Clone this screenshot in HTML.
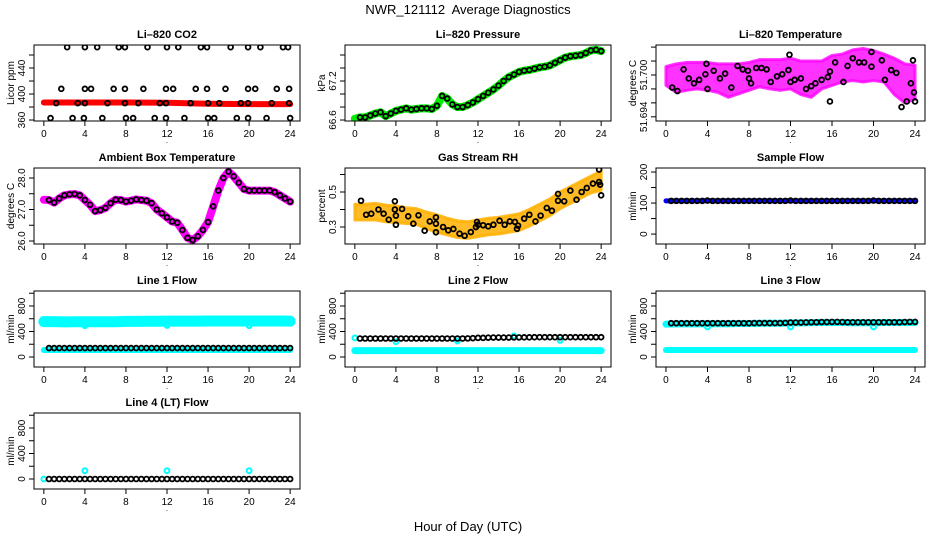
<!DOCTYPE html>
<html><head><meta charset="utf-8"><style>
body{margin:0;background:#fff;}
svg{display:block;font-family:"Liberation Sans",Arial,sans-serif;}
</style></head><body>
<svg id="chart" width="936" height="540" viewBox="0 0 936 540" xmlns="http://www.w3.org/2000/svg">
<rect width="936" height="540" fill="#fff"/>
<text x="468" y="14" text-anchor="middle" font-size="13" style="white-space:pre">NWR_121112  Average Diagnostics</text>
<text x="468" y="531" text-anchor="middle" font-size="13">Hour of Day (UTC)</text>
</svg>
<script>
// ---- data ----
const co2PtH=[2.27,4.0,5.2,7.3,7.9,10.1,12.0,13.1,15.3,15.9,18.2,19.9,21.1,23.3,23.8, 1.7,4.0,4.6,6.8,7.9,9.7,11.9,12.6,14.8,15.9,17.7,19.9,20.6,22.7,23.9, 1.2,3.3,4.0,6.2,7.9,9.2,11.3,11.9,14.3,16.0,17.1,19.2,19.9,22.2,23.9, 0.65,2.8,3.9,5.7,8.0,8.7,10.8,11.9,13.7,16.0,16.6,18.8,19.9,21.7,24];
const co2PtV=[472,472,472,472,472,472,472,472,472,472,472,472,472,472,472, 408,408,408,408,408,408,408,408,408,408,408,408,408,408,408, 386,386,386,386,386,386,386,386,386,386,386,386,386,386,386, 363,363,363,363,363,363,363,363,363,363,363,363,363,363,363];
const co2BandH=[0,4,8,12,16,20,24];
const co2BandV=[387,387,387,386.5,385,384.5,384.5];

const halfH=[0,0.5,1,1.5,2,2.5,3,3.5,4,4.5,5,5.5,6,6.5,7,7.5,8,8.5,9,9.5,10,10.5,11,11.5,12,12.5,13,13.5,14,14.5,15,15.5,16,16.5,17,17.5,18,18.5,19,19.5,20,20.5,21,21.5,22,22.5,23,23.5,24];
const presV=[66.62,66.64,66.64,66.67,66.7,66.72,66.66,66.7,66.74,66.76,66.78,66.76,66.77,66.78,66.78,66.77,66.82,66.97,66.93,66.84,66.8,66.8,66.83,66.87,66.92,66.97,67.02,67.07,67.13,67.2,67.26,67.3,67.34,67.36,67.37,67.39,67.41,67.42,67.44,67.48,67.52,67.56,67.58,67.59,67.6,67.63,67.67,67.68,67.66];

const hourH=[0,1,2,3,4,5,6,7,8,9,10,11,12,13,14,15,16,17,18,19,20,21,22,23,24];
const tempUp=[51.7012,51.7016,51.7018,51.7018,51.7018,51.7016,51.7016,51.7016,51.7018,51.7022,51.7022,51.7022,51.7024,51.7020,51.7020,51.7020,51.7028,51.7030,51.7036,51.7038,51.7035,51.7030,51.7024,51.7016,51.7014];
const tempLo=[51.6985,51.6975,51.6978,51.6980,51.6978,51.6975,51.6968,51.6973,51.6978,51.6983,51.6980,51.6978,51.6980,51.6972,51.6968,51.6980,51.6985,51.6990,51.6992,51.6990,51.6992,51.6990,51.6972,51.6960,51.6965];
const tempPtH=[0.6,1.1,1.7,2.2,2.7,3.2,3.8,3.9,4.0,4.6,5.2,5.7,6.3,6.9,7.4,7.9,8.0,8.2,8.7,9.2,9.7,10.1,10.7,11.2,11.8,11.9,12.0,12.4,13.0,13.5,14.0,14.4,15.0,15.6,15.8,15.8,16.3,17.1,17.5,18.0,18.6,19.1,19.8,19.8,20.8,21.1,21.7,22.2,22.7,23.2,23.6,23.8,23.9,24];
const tempPtV=[51.6982,51.6977,51.7008,51.6995,51.6988,51.6993,51.7001,51.7016,51.6980,51.7006,51.6995,51.7002,51.6982,51.7013,51.7008,51.7006,51.6995,51.6988,51.7010,51.7010,51.7008,51.6990,51.6998,51.7001,51.7007,51.7029,51.6990,51.6993,51.6995,51.6980,51.6984,51.6988,51.6993,51.6997,51.6962,51.7005,51.7018,51.6990,51.7013,51.7024,51.7018,51.7018,51.7033,51.7012,51.7021,51.6993,51.7007,51.7003,51.6954,51.6962,51.6988,51.7021,51.6975,51.6962];

const ambV=[27.31,27.3,27.22,27.35,27.45,27.48,27.49,27.45,27.3,27.15,26.95,26.98,27.05,27.2,27.31,27.3,27.25,27.28,27.32,27.3,27.28,27.2,27.0,26.88,26.75,26.62,26.58,26.35,26.1,26.03,26.15,26.35,26.6,27.1,27.6,28.0,28.2,28.05,27.85,27.65,27.6,27.6,27.6,27.6,27.6,27.55,27.45,27.35,27.25];

const rhUp=[0.43,0.43,0.435,0.425,0.42,0.41,0.405,0.385,0.37,0.35,0.335,0.33,0.34,0.35,0.355,0.365,0.375,0.4,0.43,0.46,0.5,0.53,0.56,0.59,0.62];
const rhLo=[0.34,0.34,0.34,0.33,0.325,0.32,0.315,0.29,0.27,0.255,0.24,0.235,0.245,0.255,0.26,0.27,0.28,0.305,0.335,0.365,0.405,0.435,0.465,0.495,0.51];
const rhPtH=[0.6,1.1,1.6,2.3,2.8,3.3,3.9,3.9,4.0,4.0,4.6,5.2,5.7,6.2,6.8,7.3,7.9,7.9,7.9,8.6,9.1,9.6,10.2,10.7,11.3,11.8,11.9,12.0,12.5,13.0,13.5,14.1,14.6,15.1,15.6,15.8,15.9,16.5,17.0,17.6,18.1,18.7,19.2,19.8,19.8,20.4,21.0,21.6,22.1,22.6,23.2,23.8,23.8,23.9,24.0];
const rhPtV=[0.45,0.37,0.376,0.40,0.376,0.342,0.40,0.447,0.365,0.313,0.403,0.361,0.319,0.367,0.279,0.332,0.355,0.319,0.27,0.30,0.281,0.289,0.262,0.25,0.271,0.30,0.329,0.313,0.31,0.304,0.313,0.336,0.313,0.332,0.329,0.29,0.308,0.348,0.37,0.332,0.365,0.409,0.393,0.45,0.489,0.447,0.508,0.456,0.50,0.523,0.548,0.628,0.557,0.542,0.481];

const sampleV=[107,107,107,107,107,107,107,107,108,107,107,107,107,107,107,107,107,107,107,107,107,107,107,107,108,107,107,107,107,107,107,107,107,107,107,107,107,107,107,107,108,107,107,107,107,107,107,107,107];

const l1Hi=[555,555,550,552,552,552,553,553,558,558,560,560,562,562,562,562,565,565,565,565,565,565,565,565,562];
const l1Lo=[110,110,110,110,110,110,110,110,110,110,110,110,110,110,110,110,110,110,110,110,110,110,110,110,110];
const l1Blk=[140,140,140,140,140,140,140,140,140,140,140,140,140,140,140,140,140,140,140,140,140,140,140,140,140,140,140,140,140,140,140,140,140,140,140,140,140,140,140,140,140,140,140,140,140,140,140,140,140];
const l1OutH=[4,12,20];
const l1OutV=[490,495,490];

const l2Lo=[100,100,100,100,100,100,100,100,100,100,100,100,100,100,100,100,100,100,100,100,100,100,100,100,100];
const l2Blk=[295,290,290,290,290,290,290,290,290,290,290,290,290,290,290,290,290,290,290,290,290,290,292,295,300,300,303,305,305,305,305,307,307,308,308,310,310,310,310,310,310,310,310,310,310,310,310,310,310];
const l2OutH=[0,4,10,15.5,20];
const l2OutV=[300,240,250,330,260];

const l3Lo=[110,110,110,110,110,110,110,110,110,110,110,110,110,110,110,110,110,110,110,110,110,110,110,110,110];
const l3Hi=[515,520,520,520,522,522,522,525,525,528,530,530,535,535,538,540,540,540,538,538,538,540,540,540,540];
const l3Blk=[530,530,530,530,530,530,530,530,530,530,530,530,530,530,530,530,530,532,532,532,532,532,532,535,540,540,540,542,545,545,548,548,550,550,548,545,545,545,545,545,545,545,545,545,545,545,548,550,550];
const l3OutH=[4,12,20];
const l3OutV=[470,470,470];

const l4Blk=[0,0,0,0,0,0,0,0,0,0,0,0,0,0,0,0,0,0,0,0,0,0,0,0,0,0,0,0,0,0,0,0,0,0,0,0,0,0,0,0,0,0,0,0,0,0,0,0,0];
const l4OutH=[0,4,12,20];
const l4OutV=[0,130,130,130];

const xTicks=[0,4,8,12,16,20,24];
const flowTicks=[0,200,400,600,800,1000];
const flowLabels=["0","400","800"];

// ---- drawing ----
const svg=document.getElementById('chart');
const NS='http://www.w3.org/2000/svg';
function mk(tag,attrs,parent){const e=document.createElementNS(NS,tag);for(const k in attrs)e.setAttribute(k,attrs[k]);(parent||svg).appendChild(e);return e;}
const cols=[[34,300],[345,611],[656,925]];
const rows=[[45,121],[168,244],[291,367],[413,489]];

function panel(name,title,col,row,ylim,yticks,ylabels,ytitle){
  const [x0,x1]=cols[col],[y0,y1]=rows[row];
  const g=mk('g',{});
  
  
  const sx=v=>x0+(v+0.96)/25.92*(x1-x0);
  const sy=v=>y1-(v-ylim[0])/(ylim[1]-ylim[0])*(y1-y0);
  const t=mk('text',{x:(x0+x1)/2,y:y0-7,'text-anchor':'middle','font-size':11,'font-weight':'bold'},g);
  t.textContent=title;
  
  
  const ax=mk('g',{stroke:'#000','stroke-width':1},g);
  
  
  xTicks.forEach(v=>{
    mk('line',{x1:sx(v),x2:sx(v),y1:y1,y2:y1+5},ax);
    const l=mk('text',{x:sx(v),y:y1+16,'text-anchor':'middle','font-size':10,stroke:'none',fill:'#000'},ax);
    l.textContent=v;
  });
  const dot=mk('text',{x:(x0+x1)/2,y:y1+22,'text-anchor':'middle','font-size':8},g);dot.textContent='.';
  const ay=mk('g',{stroke:'#000','stroke-width':1},g);
  
  
  yticks.forEach(v=>{
    if(sy(v)<y0-0.5||sy(v)>y1+0.5)return;
    mk('line',{x1:x0-5,x2:x0,y1:sy(v),y2:sy(v)},ay);
  });
  ylabels.forEach(s=>{
    const v=parseFloat(s);
    const l=mk('text',{x:0,y:0,'text-anchor':'middle','font-size':10,stroke:'none',fill:'#000',transform:`translate(${x0-9},${sy(v)}) rotate(-90)`},ay);
    l.textContent=s;
  });
  const yt=mk('text',{'text-anchor':'middle','font-size':10,transform:`translate(${x0-20},${(y0+y1)/2}) rotate(-90)`},g);
  yt.textContent=ytitle;
  
  
  const clipId='c'+name;
  const cp=mk('clipPath',{id:clipId},g);mk('rect',{x:x0,y:y0,width:x1-x0,height:y1-y0},cp);
  const plot=mk('g',{'clip-path':`url(#${clipId})`},g);
  mk('rect',{x:x0,y:y0,width:x1-x0,height:y1-y0,fill:'none',stroke:'#000','stroke-width':1},g);
  return {sx,sy,plot};
}
function band(p,xs,vs,color,w,name){
  const e=mk('polyline',{points:xs.map((x,i)=>p.sx(x)+','+p.sy(vs[i])).join(' '),fill:'none',stroke:color,'stroke-width':w,'stroke-linejoin':'round','stroke-linecap':'round'},p.plot);
  
  
}
function area(p,xs,up,lo,color,op,name){
  const pts=xs.map((x,i)=>p.sx(x)+','+p.sy(up[i])).concat(xs.slice().reverse().map((x,j)=>{const i=xs.length-1-j;return p.sx(x)+','+p.sy(lo[i]);}));
  const e=mk('polygon',{points:pts.join(' '),fill:color,'fill-opacity':op,stroke:color,'stroke-width':3,'stroke-opacity':op,'stroke-linejoin':'round'},p.plot);
  
  
}
function pts(p,xs,vs,color,name,sw){
  const g=mk('g',{fill:'none',stroke:color,'stroke-width':sw||1.8},p.plot);
  
  
  xs.forEach((x,i)=>{
    const c=mk('circle',{cx:p.sx(x),cy:p.sy(vs[i]),r:2.4},g);
    
    
  });
}

// CO2
let p=panel('co2','Li\u2013820 CO2',0,0,[358.5,475.4],[360,380,400,420,440,460],["360","400","440"],'Licor ppm');
band(p,co2BandH,co2BandV,'#ff0000',6,'co2-red-band');
pts(p,co2PtH,co2PtV,'#000','co2-means');
// Pressure
p=panel('pressure','Li\u2013820 Pressure',1,0,[66.585,67.754],[66.6,66.8,67.0,67.2,67.4,67.6],["66.6","67.2"],'kPa');
band(p,halfH,presV,'#00ee00',8,'pressure-green-band');
pts(p,halfH.slice(1),presV.slice(1),'#000','pressure-means');
// Temperature
p=panel('li820-temp','Li\u2013820 Temperature',2,0,[51.6934,51.7043],[51.694,51.696,51.698,51.700,51.702,51.704],["51.694","51.700"],'degrees C');
area(p,hourH,tempUp,tempLo,'#ff00ff',0.8,'temp-magenta-cloud');
pts(p,tempPtH,tempPtV,'#000','temp-means',1.8);
// Ambient
p=panel('ambient','Ambient Box Temperature',0,1,[25.905,28.317],[26,26.5,27,27.5,28],["26.0","27.0","28.0"],'degrees C');
band(p,halfH,ambV,'#ff00ff',8,'ambient-magenta-band');
pts(p,halfH.slice(1),ambV.slice(1),'#000','ambient-means');
// RH
p=panel('rh','Gas Stream RH',1,1,[0.203,0.637],[0.3,0.4,0.5,0.6],["0.3","0.5"],'percent');
area(p,hourH,rhUp,rhLo,'#ffb000',0.85,'rh-orange-cloud');
pts(p,rhPtH,rhPtV,'#000','rh-means',1.8);
// Sample flow
p=panel('sample-flow','Sample Flow',2,1,[-32,213],[0,50,100,150,200],["0","100","200"],'ml/min');
band(p,halfH,sampleV,'#0000ff',5,'sample-blue-band');
pts(p,halfH.slice(1),sampleV.slice(1),'#000','sample-means');
// Line 1
p=panel('line1','Line 1 Flow',0,2,[-157,1035],flowTicks,flowLabels,'ml/min');
band(p,hourH,l1Hi,'#00ffff',11,'line1-cyan-high');
band(p,hourH,l1Lo,'#00ffff',6,'line1-cyan-low');
pts(p,l1OutH,l1OutV,'#00ffff','line1-cyan-outliers',2);
pts(p,halfH.slice(1),l1Blk.slice(1),'#000','line1-means');
// Line 2
p=panel('line2','Line 2 Flow',1,2,[-157,1035],flowTicks,flowLabels,'ml/min');
band(p,hourH,l2Lo,'#00ffff',7,'line2-cyan-low');
pts(p,l2OutH,l2OutV,'#00ffff','line2-cyan-outliers',2);
pts(p,halfH.slice(1),l2Blk.slice(1),'#000','line2-means');
// Line 3
p=panel('line3','Line 3 Flow',2,2,[-157,1035],flowTicks,flowLabels,'ml/min');
band(p,hourH,l3Hi,'#00ffff',7,'line3-cyan-high');
band(p,hourH,l3Lo,'#00ffff',6,'line3-cyan-low');
pts(p,l3OutH,l3OutV,'#00ffff','line3-cyan-outliers',2);
pts(p,halfH.slice(1),l3Blk.slice(1),'#000','line3-means');
// Line 4
p=panel('line4','Line 4 (LT) Flow',0,3,[-157,1035],flowTicks,flowLabels,'ml/min');
pts(p,l4OutH,l4OutV,'#00ffff','line4-cyan-outliers',2);
pts(p,halfH.slice(1),l4Blk.slice(1),'#000','line4-means');
</script>
</body></html>
